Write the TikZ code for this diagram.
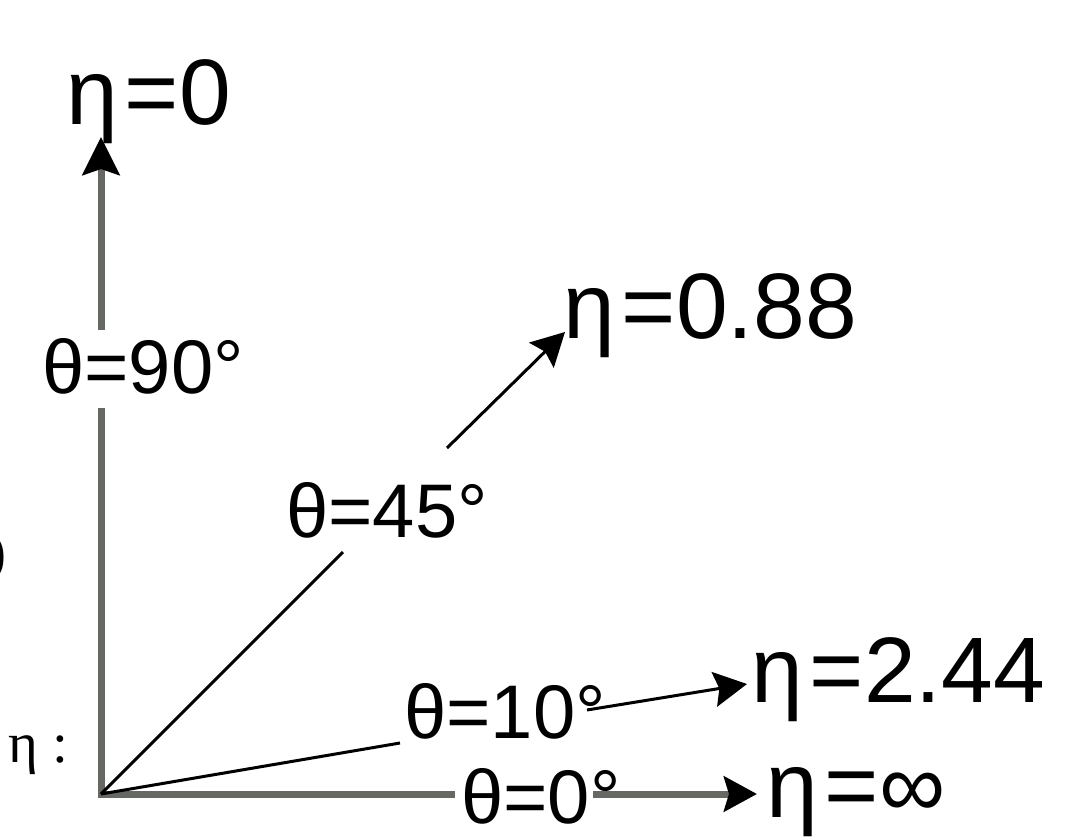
\documentclass[tikz,border=0pt]{standalone}
\usepackage{fontspec}
\setmainfont{Liberation Sans}
\newfontfamily\serifont{Liberation Serif}
\usetikzlibrary{arrows.meta}
\definecolor{axisgray}{RGB}{102,104,100}
\newcommand{\etak}{η\kern7pt}
\begin{document}
\begin{tikzpicture}[x=1pt,y=-1pt,
  etalab/.style={font=\fontsize{93}{100}\selectfont, inner sep=0pt, anchor=base west},
  thetalab/.style={font=\fontsize{76}{80}\selectfont, inner sep=0pt, anchor=base west},
  seriflab/.style={font=\serifont\fontsize{57}{60}\selectfont, inner sep=0pt},
  axisline/.style={draw=axisgray, line width=7pt, line join=miter},
  rayline/.style={draw=black, line width=3pt},
  tipbig/.style={-{Stealth[length=38pt,width=37pt,inset=6pt,color=black]}},
  tipsmall/.style={-{Stealth[length=33pt,width=35pt,inset=5pt,color=black]}}
]
\useasboundingbox (0,0) rectangle (1087,840);
\fill[white] (0,0) rectangle (1087,840);

% text nodes
\node[etalab] (e0) at (66,125) {\etak=0};
\node[thetalab] (t90) at (42,393) {θ=90°};
\node[etalab] (e88) at (563,338) {\etak=0.88};
\node[thetalab] (t45) at (286,537) {θ=45°};
\node[thetalab] (t10) at (404,738) {θ=10°};
\node[thetalab] (t0) at (461,823) {θ=0°};
\node[etalab] (e244) at (751,702) {\etak=2.44};
\node[etalab] (einf) at (766,817) {\etak=∞};
\node[seriflab, anchor=base west] (etac) at (8,762) {η :};
\node[seriflab, anchor=base east] (paren) at (7,571) {)};

% coordinates
\coordinate (O) at (101,794);
\coordinate (vA) at (101,408);
\coordinate (vB) at (101,330);
\coordinate (vT) at (101,137);
\coordinate (hA) at (455,794);
\coordinate (hB) at (593,794);
\coordinate (hT) at (757,794);
\coordinate (dA) at (343,552);
\coordinate (dB) at (447,448);
\coordinate (dT) at (565,332);
\coordinate (tA) at (400,743);
\coordinate (tB) at (587,710);
\coordinate (tT) at (747,684);

% axes
\draw[axisline] (vA) -- (O) -- (hA);
\draw[axisline, tipbig] (vB) -- (vT);
\draw[axisline, tipsmall] (hB) -- (hT);
% rays
\draw[rayline] (O) -- (dA);
\draw[rayline, tipsmall] (dB) -- (dT);
\draw[rayline] (O) -- (tA);
\draw[rayline, tipsmall] (tB) -- (tT);
\end{tikzpicture}
\end{document}
